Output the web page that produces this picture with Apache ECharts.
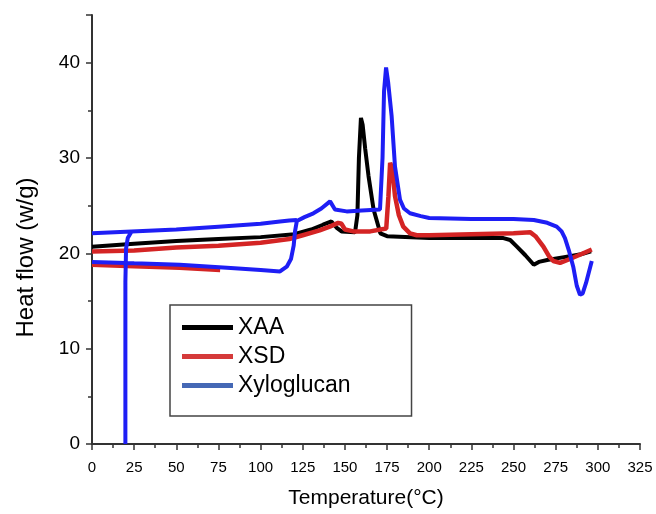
<!DOCTYPE html>
<html>
<head>
<meta charset="utf-8">
<script src="https://cdn.jsdelivr.net/npm/echarts@6/dist/echarts.min.js"></script>
<style>
  html, body { margin: 0; padding: 0; background: #fff; }
  #chart { width: 656px; height: 514px; }
</style>
</head>
<body>
<div id="chart"></div>
<script>
// temperature (°C), heat flow (w/g) pairs
let xaaPoints = [
    [0, 20.7], [25, 21.0], [50, 21.3], [75, 21.5], [100, 21.7], [120, 22.0],
    [130, 22.5], [137, 23.0], [142, 23.35], [145, 22.7], [148, 22.3], [156, 22.2],
    [157.4, 24], [158.3, 30], [159.5, 34.2], [160.5, 33.5], [162, 31], [164, 28.1],
    [167, 24.6], [171, 22.1], [175, 21.8], [200, 21.6], [225, 21.6], [244, 21.6],
    [248, 21.4], [252, 20.7], [257, 19.8], [262, 18.8], [265, 19.1], [270, 19.3],
    [280, 19.6], [290, 19.9], [296, 20.2]
];

let xsdPoints = [
    [0, 18.8], [25, 18.65], [52, 18.5], [76, 18.25],
    null,
    [0, 20.2], [25, 20.3], [50, 20.6], [75, 20.8], [100, 21.1], [117, 21.5],
    [125, 21.9], [135, 22.4], [141, 22.8], [146, 23.2], [148, 23.1], [150, 22.5],
    [155, 22.3], [165, 22.3], [174.5, 22.6], [175.8, 26], [176.8, 29.5], [178, 29],
    [179.7, 26], [182, 24], [184.6, 22.8], [188.6, 22.1], [192.6, 21.9], [200, 21.9],
    [225, 22.0], [250, 22.1], [260, 22.2], [263, 21.8], [267.7, 20.7], [271, 19.7],
    [273.6, 19.2], [277.6, 19.0], [282, 19.3], [290, 19.9], [296.4, 20.4]
];

let xyloPoints = [
    [0, 19.1], [25, 18.95], [52, 18.8], [80, 18.5], [100, 18.25], [111.5, 18.1],
    [115.5, 18.6], [118, 19.4], [119.6, 20.8], [120.4, 22.3], [121.5, 23.4],
    [126, 23.8], [131.3, 24.2], [136, 24.7], [141.2, 25.45], [144.1, 24.6],
    [151, 24.4], [160, 24.5], [170.8, 24.6], [171.5, 24.8], [172.3, 30], [173.2, 37],
    [174.4, 39.5], [175.6, 38], [177.7, 34.4], [179.7, 29.1], [182.7, 25.6],
    [185, 24.7], [188.6, 24.2], [195, 23.9], [200, 23.7], [225, 23.6], [250, 23.6],
    [262, 23.5], [270, 23.2], [275.6, 22.8], [278.5, 22.3], [280.5, 21.6],
    [283, 20.2], [285.4, 18.6], [287.5, 16.6], [289.4, 15.65], [291, 15.8],
    [293, 16.9], [296.4, 19.2],
    null,
    [19.8, 0], [19.8, 17], [20.2, 20.5], [21.2, 21.6], [23.5, 22.3],
    null,
    [0, 22.1], [23.5, 22.3], [50, 22.5], [75, 22.8], [100, 23.1], [111.5, 23.35],
    [117, 23.45], [121.5, 23.5]
];

let seriesNames = ["XAA", "XSD", "Xyloglucan"];

let chart = echarts.init(document.getElementById("chart"));

let axisFont = "Liberation Sans";

let option = {
    animation: false,
    backgroundColor: "#fff",
    grid: { left: 92, right: 16, top: 15, bottom: 70 },
    legend: {
        orient: "vertical",
        left: 170,
        top: 305,
        padding: [11, 61, 19, 12],
        itemWidth: 51,
        itemHeight: 5,
        itemGap: 6,
        itemTextGap: 7,
        icon: "rect",
        borderColor: "#444",
        borderWidth: 1.5,
        textStyle: { fontFamily: axisFont, fontSize: 23, color: "#000" },
        data: [
            { name: seriesNames[0], itemStyle: { color: "#000" } },
            { name: seriesNames[1], itemStyle: { color: "#d53a3a" } },
            { name: seriesNames[2], itemStyle: { color: "#4568b5" } }
        ]
    },
    xAxis: {
        type: "value",
        min: 0,
        max: 325,
        interval: 25,
        name: "Temperature(°C)",
        nameLocation: "middle",
        nameGap: 44,
        nameTextStyle: { fontFamily: axisFont, fontSize: 21, color: "#000" },
        axisLine: { show: true, lineStyle: { color: "#333", width: 2 } },
        axisTick: { show: true, length: 6, lineStyle: { color: "#333", width: 1.5 } },
        minorTick: { show: true, splitNumber: 2, length: 4, lineStyle: { color: "#333", width: 1.5 } },
        axisLabel: { fontFamily: axisFont, fontSize: 15, color: "#000", margin: 16 },
        splitLine: { show: false }
    },
    yAxis: {
        type: "value",
        min: 0,
        max: 45,
        interval: 10,
        name: "Heat flow (w/g)",
        nameLocation: "middle",
        nameGap: 54,
        nameTextStyle: { fontFamily: axisFont, fontSize: 24, color: "#000", padding: [0, 56, 0, 0] },
        axisLine: { show: true, lineStyle: { color: "#333", width: 2 } },
        axisTick: { show: true, length: 6, lineStyle: { color: "#333", width: 1.5 } },
        minorTick: { show: true, splitNumber: 2, length: 4, lineStyle: { color: "#333", width: 1.5 } },
        axisLabel: { fontFamily: axisFont, fontSize: 19, color: "#000", margin: 12, showMaxLabel: false },
        splitLine: { show: false }
    },
    series: [
        {
            name: seriesNames[0], type: "line", data: xaaPoints,
            symbol: "none", connectNulls: false,
            lineStyle: { color: "#000", width: 4 }, itemStyle: { color: "#000" }
        },
        {
            name: seriesNames[1], type: "line", data: xsdPoints,
            symbol: "none", connectNulls: false,
            lineStyle: { color: "#d42424", width: 4.5 }, itemStyle: { color: "#d42424" }
        },
        {
            name: seriesNames[2], type: "line", data: xyloPoints,
            symbol: "none", connectNulls: false,
            lineStyle: { color: "#1e1ef5", width: 4 }, itemStyle: { color: "#1e1ef5" }
        }
    ]
};

chart.setOption(option);
</script>
</body>
</html>
